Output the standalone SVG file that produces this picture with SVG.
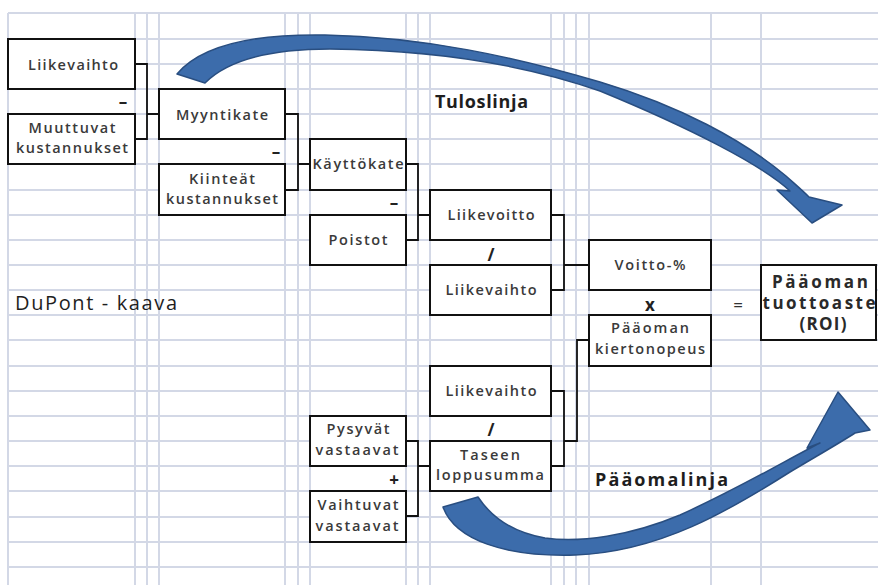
<svg xmlns="http://www.w3.org/2000/svg" width="878" height="585" viewBox="0 0 878 585">
  <style>
    .grid line { stroke: #d3d8e6; stroke-width: 2; }
    .box { fill: #ffffff; stroke: #111111; stroke-width: 2; }
    .wire { fill: none; stroke: #111111; stroke-width: 1.8; }
    .lbl { font-family: "Open Sans", "Liberation Sans", sans-serif; font-size: 14.5px; font-weight: 600; fill: #3a3a3a; text-anchor: middle; }
    .roi { font-family: "Open Sans", "Liberation Sans", sans-serif; font-size: 17px; font-weight: 700; fill: #2a2a2a; text-anchor: middle; }
    .title { font-family: "Open Sans", "Liberation Sans", sans-serif; font-size: 18px; font-weight: 700; fill: #1e1e1e; }
    .plain { font-family: "Open Sans", "Liberation Sans", sans-serif; font-size: 20px; font-weight: 400; fill: #1e1e1e; }
    .op { font-family: "Open Sans", "Liberation Sans", sans-serif; font-size: 17px; font-weight: 700; fill: #222222; text-anchor: middle; }
    .eq { font-family: "Open Sans", "Liberation Sans", sans-serif; font-size: 17px; font-weight: 400; fill: #333333; text-anchor: middle; }
    .curve { fill: #3c6cab; stroke: #294e80; stroke-width: 1.5; stroke-linejoin: round; }
  </style>

  <rect width="878" height="585" fill="#ffffff"/>

  <!-- spreadsheet grid -->
  <g class="grid">
    <line x1="8" y1="13" x2="878" y2="13"/>
    <line x1="8" y1="39" x2="878" y2="39"/>
    <line x1="8" y1="64" x2="878" y2="64"/>
    <line x1="8" y1="89" x2="878" y2="89"/>
    <line x1="8" y1="114" x2="878" y2="114"/>
    <line x1="8" y1="139" x2="878" y2="139"/>
    <line x1="8" y1="164" x2="878" y2="164"/>
    <line x1="8" y1="190" x2="878" y2="190"/>
    <line x1="8" y1="215" x2="878" y2="215"/>
    <line x1="8" y1="240" x2="878" y2="240"/>
    <line x1="8" y1="265" x2="878" y2="265"/>
    <line x1="8" y1="290" x2="878" y2="290"/>
    <line x1="8" y1="315" x2="878" y2="315"/>
    <line x1="8" y1="340" x2="878" y2="340"/>
    <line x1="8" y1="366" x2="878" y2="366"/>
    <line x1="8" y1="391" x2="878" y2="391"/>
    <line x1="8" y1="416" x2="878" y2="416"/>
    <line x1="8" y1="441" x2="878" y2="441"/>
    <line x1="8" y1="466" x2="878" y2="466"/>
    <line x1="8" y1="491" x2="878" y2="491"/>
    <line x1="8" y1="517" x2="878" y2="517"/>
    <line x1="8" y1="542" x2="878" y2="542"/>
    <line x1="8" y1="567" x2="878" y2="567"/>
    <line x1="8" y1="13" x2="8" y2="585"/>
    <line x1="135" y1="13" x2="135" y2="585"/>
    <line x1="147" y1="13" x2="147" y2="585"/>
    <line x1="159" y1="13" x2="159" y2="585"/>
    <line x1="285" y1="13" x2="285" y2="585"/>
    <line x1="298" y1="13" x2="298" y2="585"/>
    <line x1="310" y1="13" x2="310" y2="585"/>
    <line x1="406" y1="13" x2="406" y2="585"/>
    <line x1="418" y1="13" x2="418" y2="585"/>
    <line x1="430" y1="13" x2="430" y2="585"/>
    <line x1="551" y1="13" x2="551" y2="585"/>
    <line x1="564" y1="13" x2="564" y2="585"/>
    <line x1="576" y1="13" x2="576" y2="585"/>
    <line x1="589" y1="13" x2="589" y2="585"/>
    <line x1="711" y1="13" x2="711" y2="585"/>
    <line x1="761" y1="13" x2="761" y2="585"/>
  </g>

  <!-- big curved arrows -->
  <g id="tuloslinja-arrow">
    <path class="curve" d="M177,74 C203,43 262,34 325,35 C425,37 515,57 600,82 C680,106 743,140 786,176 C796,185 803,191 809,197 L842,205 L812,223 L777,190 L790,191 C762,165 690,128 600,91 C520,63 430,50 330,49 C270,49 228,60 205,83 Z"/>
  </g>
  <g id="paaomalinja-arrow">
    <path class="curve" d="M443,507 C455,540 505,557 575,555 C660,552 730,510 790,472 C815,457 838,444 855,433 L870,430 L838,392 L807,448 L820,443 C790,458 740,488 680,515 C630,536 580,543 545,538 C510,532 490,515 478,497 Z"/>
  </g>

  <!-- connectors -->
  <g id="connectors" class="wire">
    <path d="M135,64 H147 V139 H135 M147,114 H159"/>
    <path d="M285,114 H298 V190 H285 M298,164 H310"/>
    <path d="M406,164 H418 V240 H406 M418,215 H430"/>
    <path d="M551,215 H564 V290 H551 M564,265 H589"/>
    <path d="M551,391 H564 V466 H551 M564,441 H577 V340 H589"/>
    <path d="M406,441 H418 V516 H406 M418,466 H430"/>
  </g>

  <!-- nodes -->
  <g id="liikevaihto-1">
    <rect class="box" x="8" y="39" width="127" height="50"/>
    <text class="lbl" x="73" y="70" textLength="90">Liikevaihto</text>
  </g>
  <g id="muuttuvat-kustannukset">
    <rect class="box" x="8" y="114" width="127" height="50"/>
    <text class="lbl" x="72" y="133" textLength="87">Muuttuvat</text>
    <text class="lbl" x="72" y="153" textLength="112">kustannukset</text>
  </g>
  <g id="myyntikate">
    <rect class="box" x="159" y="89" width="126" height="50"/>
    <text class="lbl" x="222" y="120" textLength="92">Myyntikate</text>
  </g>
  <g id="kiinteat-kustannukset">
    <rect class="box" x="159" y="164" width="126" height="51"/>
    <text class="lbl" x="222" y="184" textLength="66">Kiinteät</text>
    <text class="lbl" x="222" y="204" textLength="112">kustannukset</text>
  </g>
  <g id="kayttokate">
    <rect class="box" x="310" y="139" width="96" height="51"/>
    <text class="lbl" x="358" y="169" textLength="91">Käyttökate</text>
  </g>
  <g id="poistot">
    <rect class="box" x="310" y="215" width="96" height="50"/>
    <text class="lbl" x="358" y="245" textLength="59">Poistot</text>
  </g>
  <g id="liikevoitto">
    <rect class="box" x="430" y="190" width="121" height="50"/>
    <text class="lbl" x="491" y="220" textLength="87">Liikevoitto</text>
  </g>
  <g id="liikevaihto-2">
    <rect class="box" x="430" y="265" width="121" height="50"/>
    <text class="lbl" x="491" y="295" textLength="91">Liikevaihto</text>
  </g>
  <g id="voitto-prosentti">
    <rect class="box" x="589" y="240" width="122" height="50"/>
    <text class="lbl" x="650" y="270" textLength="71">Voitto-%</text>
  </g>
  <g id="paaoman-kiertonopeus">
    <rect class="box" x="589" y="315" width="122" height="51"/>
    <text class="lbl" x="650" y="333" textLength="78">Pääoman</text>
    <text class="lbl" x="650" y="354" textLength="110">kiertonopeus</text>
  </g>
  <g id="roi">
    <rect class="box" x="761" y="265" width="115" height="75"/>
    <text class="roi" x="820" y="288" textLength="96">Pääoman</text>
    <text class="roi" x="819" y="309" textLength="113">tuottoaste</text>
    <text class="roi" x="823" y="330" textLength="47">(ROI)</text>
  </g>
  <g id="liikevaihto-3">
    <rect class="box" x="430" y="366" width="121" height="50"/>
    <text class="lbl" x="491" y="396" textLength="91">Liikevaihto</text>
  </g>
  <g id="taseen-loppusumma">
    <rect class="box" x="430" y="441" width="121" height="50"/>
    <text class="lbl" x="490" y="460" textLength="60">Taseen</text>
    <text class="lbl" x="490" y="480" textLength="108">loppusumma</text>
  </g>
  <g id="pysyvat-vastaavat">
    <rect class="box" x="310" y="416" width="96" height="50"/>
    <text class="lbl" x="358" y="434" textLength="63">Pysyvät</text>
    <text class="lbl" x="357" y="455" textLength="83">vastaavat</text>
  </g>
  <g id="vaihtuvat-vastaavat">
    <rect class="box" x="310" y="491" width="96" height="51"/>
    <text class="lbl" x="358" y="510" textLength="81">Vaihtuvat</text>
    <text class="lbl" x="357" y="531" textLength="83">vastaavat</text>
  </g>

  <!-- operators -->
  <g id="operators">
    <text class="op" x="123" y="108">–</text>
    <text class="op" x="276" y="158">–</text>
    <text class="op" x="394" y="209">–</text>
    <text class="op" x="491" y="261">/</text>
    <text class="op" x="491" y="436">/</text>
    <text class="op" x="394" y="486">+</text>
    <text class="op" x="650" y="311">x</text>
    <text class="eq" x="738" y="311">=</text>
  </g>

  <!-- titles -->
  <text class="title" x="435" y="108" textLength="93">Tuloslinja</text>
  <text class="title" x="595" y="486" textLength="133">Pääomalinja</text>
  <text class="plain" x="15" y="310" textLength="162">DuPont - kaava</text>
</svg>
